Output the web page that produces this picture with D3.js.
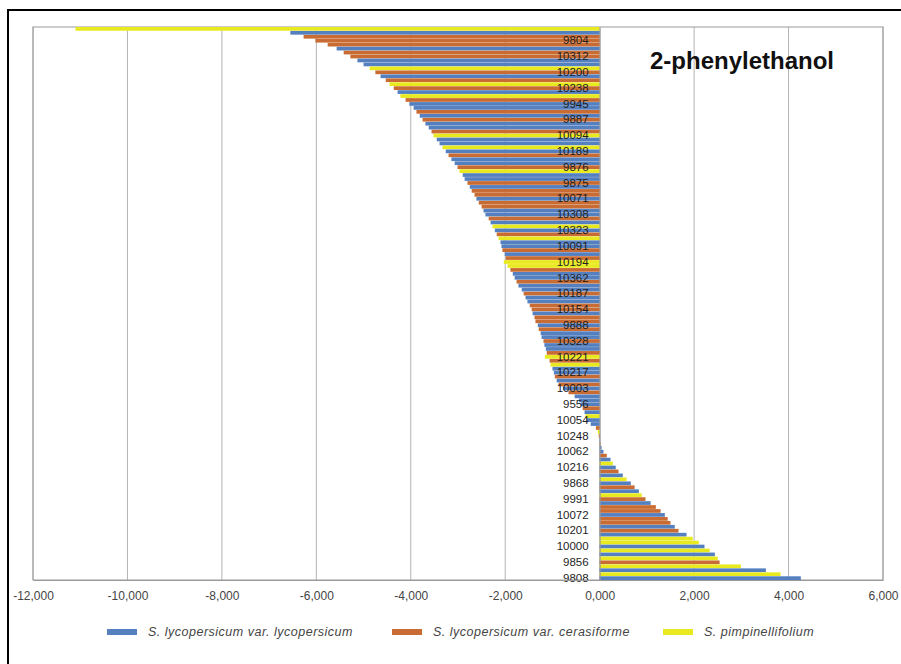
<!DOCTYPE html>
<html>
<head>
<meta charset="utf-8">
<script src="https://cdn.jsdelivr.net/npm/d3@7"></script>
<style>
  html, body { margin: 0; padding: 0; background: #fff; }
  svg { display: block; }
</style>
</head>
<body>
<svg id="chart" width="901" height="664"></svg>
<script>
// Accession IDs shown on the category axis (every fourth bar, top to bottom)
const shownIds = ["9804","10312","10200","10238","9945","9887","10094","10189","9876","9875",
  "10071","10308","10323","10091","10194","10362","10187","10154","9888","10328",
  "10221","10217","10003","9556","10054","10248","10062","10216","9868","9991",
  "10072","10201","10000","9856","9808"];

// Difference in 2-phenylethanol per accession, sorted (thousands)
const values = [
  -11.10, -6.55, -6.27, -6.02, -5.76, -5.57, -5.42, -5.28, -5.13, -5.00,
  -4.87, -4.75, -4.64, -4.53, -4.45, -4.36, -4.28, -4.22, -4.11, -4.03,
  -3.94, -3.88, -3.81, -3.75, -3.69, -3.62, -3.56, -3.52, -3.45, -3.39,
  -3.33, -3.26, -3.20, -3.14, -3.07, -3.01, -2.97, -2.90, -2.86, -2.80,
  -2.75, -2.71, -2.65, -2.61, -2.56, -2.50, -2.46, -2.42, -2.35, -2.31,
  -2.27, -2.22, -2.18, -2.14, -2.10, -2.08, -2.06, -2.01, -1.99, -2.03,
  -1.95, -1.89, -1.84, -1.80, -1.76, -1.72, -1.65, -1.61, -1.57, -1.53,
  -1.48, -1.44, -1.42, -1.38, -1.36, -1.31, -1.29, -1.25, -1.23, -1.19,
  -1.17, -1.14, -1.12, -1.16, -1.06, -1.04, -1.00, -0.97, -0.95, -0.91,
  -0.87, -0.78, -0.66, -0.53, -0.44, -0.40, -0.36, -0.32, -0.30, -0.28,
  -0.19, -0.08, -0.04, -0.02, 0.01, 0.02, 0.04, 0.08, 0.15, 0.23,
  0.28, 0.34, 0.40, 0.49, 0.57, 0.66, 0.74, 0.83, 0.89, 0.97,
  1.08, 1.19, 1.29, 1.38, 1.44, 1.50, 1.59, 1.67, 1.84, 1.97,
  2.10, 2.22, 2.33, 2.44, 2.50, 2.54, 2.99, 3.52, 3.83, 4.26
];

// Species of each accession: 0 = var. lycopersicum, 1 = var. cerasiforme, 2 = S. pimpinellifolium
const species = [
  2,0,1,1,1,0,1,1,0,0, 2,1,0,1,2,1,0,2,1,0,
  0,1,0,1,0,0,1,2,0,0, 2,0,1,0,0,1,2,0,0,1,
  0,1,1,0,1,1,0,0,1,0, 2,0,1,2,0,0,1,0,1,2,
  2,1,0,0,1,0,0,1,0,0, 1,1,0,1,1,0,1,0,0,1,
  0,0,1,2,1,2,0,0,1,0, 1,0,1,0,0,0,1,0,2,0,
  0,1,2,1,0,1,0,0,1,0, 2,0,1,0,2,0,1,0,2,1,
  0,1,1,0,1,1,0,1,0,2, 2,0,2,0,2,1,2,0,2,0
];

const seriesNames = ["S. lycopersicum var. lycopersicum", "S. lycopersicum var. cerasiforme", "S. pimpinellifolium"];
const seriesColors = ["#5580c0", "#c96c33", "#e9e920"];

const xTicks = [-12, -10, -8, -6, -4, -2, 0, 2, 4, 6];
const xTickLabels = ["-12,000","-10,000","-8,000","-6,000","-4,000","-2,000","0,000","2,000","4,000","6,000"];

const chartTitle = "2-phenylethanol";

const svg = d3.select("#chart");

// outer frame
svg.append("rect")
  .attr("x", 8).attr("y", 10)
  .attr("width", 905).attr("height", 670)
  .attr("fill", "none").attr("stroke", "#000").attr("stroke-width", 2);

const plot = { left: 33, right: 883, top: 27, bottom: 580 };

const x = d3.scaleLinear().domain([-12, 6]).range([plot.left, plot.right]);
const y = d3.scaleBand()
  .domain(d3.range(values.length))
  .range([plot.top, plot.bottom])
  .paddingInner(0.06);

// vertical gridlines
svg.append("g")
  .selectAll("line")
  .data(xTicks)
  .join("line")
  .attr("x1", d => x(d)).attr("x2", d => x(d))
  .attr("y1", plot.top).attr("y2", plot.bottom)
  .attr("stroke", "#b4b4b4").attr("stroke-width", 1);

// plot area border
svg.append("rect")
  .attr("x", plot.left).attr("y", plot.top)
  .attr("width", plot.right - plot.left).attr("height", plot.bottom - plot.top)
  .attr("fill", "none").attr("stroke", "#9a9a9a").attr("stroke-width", 1);

// bars
svg.append("g")
  .selectAll("rect")
  .data(values.map((v, i) => ({ v, i, s: species[i] })))
  .join("rect")
  .attr("x", d => x(Math.min(0, d.v)))
  .attr("width", d => Math.abs(x(d.v) - x(0)))
  .attr("y", d => y(d.i))
  .attr("height", y.bandwidth())
  .attr("fill", d => seriesColors[d.s]);

// category axis at zero
const labelIdx = shownIds.map((_, k) => 3 + 4 * k);
const yAxis = d3.axisLeft(y)
  .tickValues(labelIdx)
  .tickFormat(i => shownIds[(i - 3) / 4])
  .tickSize(0)
  .tickPadding(11);
const gy = svg.append("g")
  .attr("transform", `translate(${x(0)},0)`)
  .call(yAxis);
gy.select(".domain").attr("stroke", "#9a9a9a");
gy.selectAll("text")
  .attr("font-family", "Liberation Sans, Arial, sans-serif")
  .attr("font-size", "11.5px")
  .attr("fill", "#1e1e1e");

// value axis
const xAxis = d3.axisBottom(x)
  .tickValues(xTicks)
  .tickFormat((d, k) => xTickLabels[k])
  .tickSize(0)
  .tickPadding(11);
const gx = svg.append("g")
  .attr("transform", `translate(0,${plot.bottom})`)
  .call(xAxis);
gx.select(".domain").attr("stroke", "#9a9a9a");
gx.selectAll("text")
  .attr("font-family", "Liberation Sans, Arial, sans-serif")
  .attr("font-size", "12px")
  .attr("fill", "#444");

// title
svg.append("text")
  .attr("x", 650).attr("y", 69)
  .attr("font-family", "Liberation Sans, Arial, sans-serif")
  .attr("font-weight", "bold")
  .attr("font-size", "24px")
  .attr("fill", "#111")
  .text(chartTitle);

// legend
const legendX = [107, 392, 663];
const legend = svg.append("g");
seriesNames.forEach((name, k) => {
  legend.append("rect")
    .attr("x", legendX[k]).attr("y", 629)
    .attr("width", 30).attr("height", 6)
    .attr("fill", seriesColors[k]);
  legend.append("text")
    .attr("x", legendX[k] + 41).attr("y", 636)
    .attr("font-family", "Liberation Sans, Arial, sans-serif")
    .attr("font-style", "italic")
    .attr("font-size", "12.5px")
    .attr("letter-spacing", "0.5px")
    .attr("fill", "#444")
    .text(name);
});
</script>
</body>
</html>
